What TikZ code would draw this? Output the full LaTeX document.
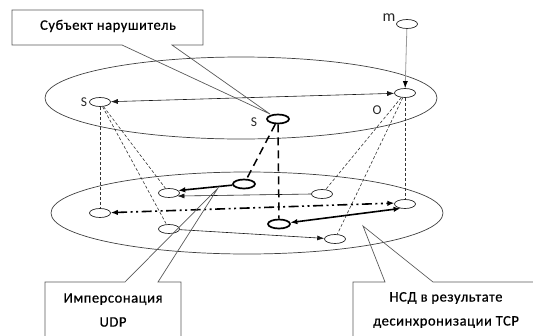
\documentclass[tikz,border=0pt]{standalone}
\usepackage{fontspec}
\setmainfont{Carlito}
\usetikzlibrary{shapes.geometric,arrows.meta}
\begin{document}
\begin{tikzpicture}[x=1pt,y=-1pt,
  plane/.style={draw=black!75, line width=0.7pt},
  nd/.style={ellipse, draw=black!85, line width=0.7pt, minimum width=21pt, minimum height=9pt, inner sep=0pt},
  bnd/.style={ellipse, draw=black, line width=1.7pt, minimum width=22pt, minimum height=9pt, inner sep=0pt},
  lbl/.style={font=\fontsize{13.5}{13.5}\selectfont, text=black!85, inner sep=0pt},
  ctext/.style={font=\fontsize{14.5}{24}\selectfont\addfontfeature{LetterSpace=4,FakeBold=0.6}, text=black, align=center, inner sep=0pt},
  callout/.style={draw=black!65, line width=0.7pt},
  thinarr/.style={draw=black!90, line width=0.6pt, -{Latex[length=7pt,width=5pt]}},
  thinboth/.style={draw=black!90, line width=0.6pt, {Latex[length=7pt,width=5pt]}-{Latex[length=7pt,width=5pt]}},
  thickarr/.style={draw=black, line width=1.6pt, -{Latex[length=7pt,width=5.5pt]}},
  thickboth/.style={draw=black, line width=1.6pt, {Latex[length=7pt,width=5.5pt]}-{Latex[length=7pt,width=5.5pt]}},
  dashdotarr/.style={draw=black, line width=1.6pt, dash pattern=on 10pt off 3.5pt on 2pt off 3.5pt on 2pt off 3.5pt, {Latex[length=7pt,width=5.5pt]}-{Latex[length=7pt,width=5.5pt]}},
  bigdash/.style={draw=black, line width=1.5pt, dash pattern=on 8pt off 5pt},
  smalldash/.style={draw=black!80, line width=0.6pt, dash pattern=on 3pt off 2pt},
]
\useasboundingbox (0,0) rectangle (533,335);
\clip (0,0) rectangle (533,335);

% planes
\draw[plane] (241,98) ellipse [x radius=196pt, y radius=41pt];
\draw[plane] (247,213) ellipse [x radius=196pt, y radius=41pt];

% top plane nodes
\node[nd] (sl) at (100,102) {};
\node[bnd] (sm) at (278,119) {};
\node[nd] (o) at (405,93) {};
\node[nd] (m) at (407,24) {};
\node[lbl] (lsl) at (84,102) {S};
\node[lbl] (lsm) at (254,122) {S};
\node[lbl] (lo) at (377,110) {O};
\node[lbl, font=\fontsize{16}{16}\selectfont] (lm) at (389,18) {m};

% bottom plane nodes
\node[nd] (a) at (169,193) {};
\node[nd] (b) at (100,213) {};
\node[nd] (c) at (169,229) {};
\node[bnd] (d) at (244,184) {};
\node[nd] (e) at (322,194) {};
\node[bnd] (f) at (279,224) {};
\node[nd] (g) at (405,204) {};
\node[nd] (h) at (335,239) {};

% top connectors
\draw[thinboth] (sl) -- (o);
\draw[draw=black!40, line width=0.8pt, -{Latex[length=7pt,width=5pt,fill=black,color=black]}] (m) -- (o);

% vertical links
\draw[smalldash] (sl) -- (b);
\draw[smalldash] (sl) -- (a);
\draw[smalldash] (sl) -- (c);
\draw[smalldash] (o) -- (g);
\draw[smalldash] (o) -- (e);
\draw[smalldash] (o) -- (h);
\draw[bigdash] (sm) -- (d);
\draw[bigdash] (sm.south) -- (f.north);

% bottom connectors
\draw[thickarr] (d) -- (a.15);
\draw[thinarr] (e.west) -- (a.-20);
\draw[dashdotarr] (b) -- (g.175);
\draw[thickboth] (f) -- (g.225);
\draw[thinarr] (c) -- (h);

% callouts
\node[ctext] (t1) at (108,26) {Субъект нарушитель};
\coordinate (p1) at (270,114);
\draw[callout] (122,45) -- (12,45) -- (12,10) -- (203,10) -- (203,45) -- (172,45) -- (p1) -- cycle;

\node[ctext] (t2) at (113,310) {Имперсонация\\UDP};
\coordinate (p2) at (218,188);
\draw[callout] (45,345) -- (45,282) -- (125,282) -- (p2) -- (158,282) -- (181,282) -- (181,345);

\node[ctext] (t3) at (446,310) {НСД в результате\\десинхронизации TCP};
\coordinate (p3) at (363,226);
\draw[callout] (353,345) -- (353,282) -- (385,282) -- (p3) -- (433,282) -- (545,282) -- (545,345);
\end{tikzpicture}
\end{document}
